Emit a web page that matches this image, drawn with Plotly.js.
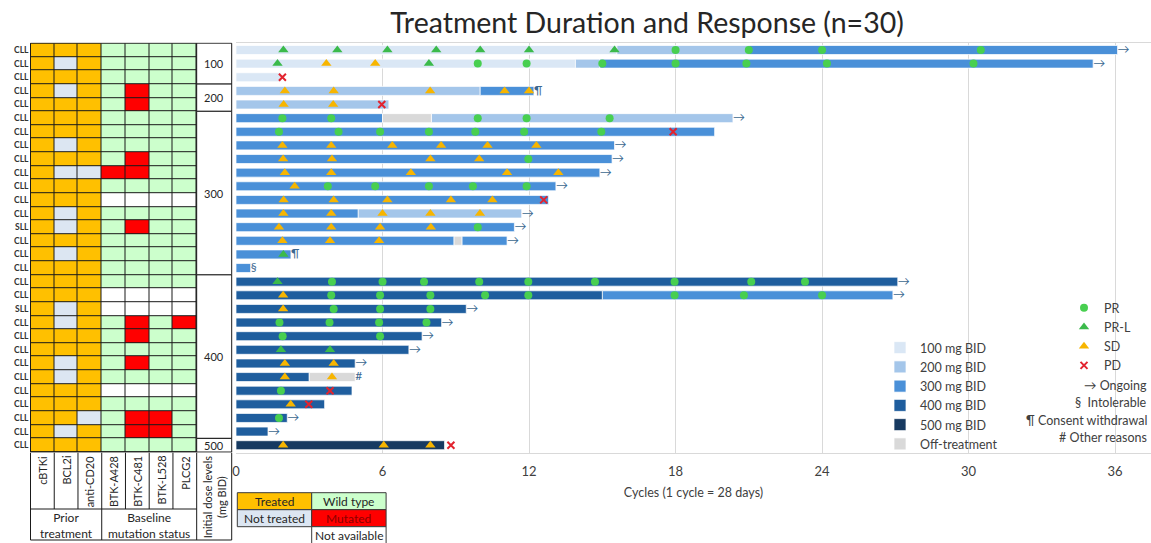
<!DOCTYPE html>
<html>
<head>
<meta charset="utf-8">
<script src="https://cdn.plot.ly/plotly-3.0.1.min.js"></script>
<style>html,body{margin:0;padding:0;background:#fff;}#chart{width:1151px;height:543px;}</style>
</head>
<body>
<div id="chart"></div>
<script>
// ---------------- DATA ----------------
const rows = Array.from({length: 30}, (_, i) => i + 1);
const diagnosis = ['CLL','CLL','CLL','CLL','CLL','CLL','CLL','CLL','CLL','CLL','CLL','CLL','CLL','SLL','CLL',
                   'CLL','CLL','CLL','CLL','SLL','CLL','CLL','CLL','CLL','CLL','CLL','CLL','CLL','CLL','CLL'];
// prior treatment: cBTKi, BCL2i, anti-CD20  (T = treated, N = not treated)
const priorTreatment = ['TTT','TNT','TTT','TNT','TTT','TTT','TTT','TNT','TTT','TNN','TTT','TTT','TNT','TNT','TTT',
                        'TNT','TTT','TTT','TTT','TNT','TNT','TTT','TTT','TNT','TNT','TTT','TTT','TTN','TNT','TTT'];
// baseline mutation: BTK-A428, BTK-C481, BTK-L528, PLCG2 (W = wild type, M = mutated, A = not available)
const mutationStatus = ['WWWW','WWWW','WWWW','WMWW','WMWW','WWWW','WWWW','WWWW','WMWW','MMWW','WWWW','AAAA','WWWW','WMWW','WWWW',
                        'WWWW','WWWW','WWWW','AAAA','AAAA','WMWM','WMWW','WWWW','WMWW','WWWW','AAAA','WWWW','WMMW','WMMW','WWWW'];
const tableColumns = ['cBTKi','BCL2i','anti-CD20','BTK-A428','BTK-C481','BTK-L528','PLCG2'];
const statusCodes = ['T','N','W','M','A'];
const statusLabels = ['Treated','Not treated','Wild type','Mutated','Not available'];

const doseGroupLabels = ['100','200','300','400','500'];
const doseGroupFirst = [1, 4, 6, 18, 30];
const doseGroupLast  = [3, 5, 17, 29, 30];

// dose segments (cycles)
const dose100_row = [1, 2, 3];
const dose100_start = [0, 0, 0];
const dose100_end = [15.6, 13.9, 1.85];

const dose200_row = [1, 2, 4, 5, 6, 13];
const dose200_start = [15.6, 13.9, 0, 0, 8.0, 5.0];
const dose200_end = [21.0, 14.9, 10.0, 6.26, 20.35, 11.7];

const dose300_row = [1, 2, 4, 6, 7, 8, 9, 10, 11, 12, 13, 14, 15, 15, 16, 17, 19];
const dose300_start = [21.0, 14.9, 10.0, 0, 0, 0, 0, 0, 0, 0, 0, 0, 0, 9.25, 0, 0, 15.0];
const dose300_end = [36.1, 35.1, 12.2, 6.0, 19.6, 15.5, 15.4, 14.9, 13.1, 12.8, 5.0, 11.4, 8.93, 11.1, 2.25, 0.6, 26.9];

const dose400_row = [18, 19, 20, 21, 22, 23, 24, 25, 26, 27, 28, 29];
const dose400_start = [0, 0, 0, 0, 0, 0, 0, 0, 0, 0, 0, 0];
const dose400_end = [27.1, 15.0, 9.43, 8.42, 7.62, 7.08, 4.88, 3.0, 4.75, 3.63, 2.1, 1.31];

const dose500_row = [30];
const dose500_start = [0];
const dose500_end = [8.54];

const offTx_row = [6, 15, 25];
const offTx_start = [6.0, 8.93, 3.0];
const offTx_end = [8.0, 9.25, 4.88];

// responses: [row, [cycles]]
const respPR = [
  [1, [18.0, 21.0, 24.0, 30.5]],
  [2, [9.9, 11.9, 15.0, 18.0, 20.9, 24.2, 30.2]],
  [6, [1.9, 3.9, 9.9, 11.9, 15.3]],
  [7, [1.76, 4.2, 5.9, 7.9, 9.8, 11.8, 14.96]],
  [9, [11.97]],
  [11, [3.76, 5.7, 7.9, 9.7, 11.9]],
  [14, [9.9]],
  [18, [3.93, 6.0, 7.7, 9.96, 11.97, 14.7, 17.96, 21.1, 23.3]],
  [19, [3.9, 5.9, 7.96, 10.2, 11.97, 17.96, 20.8, 24.0]],
  [20, [4.0, 5.9, 7.96]],
  [21, [1.78, 3.83, 5.86, 7.8]],
  [22, [1.91, 5.9]],
  [26, [1.84]],
  [28, [1.76]]
];
const respPRL = [
  [1, [1.94, 4.15, 6.2, 8.2, 10.0, 12.0, 15.5]],
  [2, [1.7, 7.9]],
  [16, [1.94]],
  [18, [1.7]],
  [23, [1.84, 3.85]]
];
const respSD = [
  [2, [3.7, 5.7]],
  [4, [2.0, 4.0, 7.95, 11.0, 12.0]],
  [5, [1.95, 3.98]],
  [8, [1.9, 3.9, 6.4, 8.4, 10.3, 12.3]],
  [9, [1.93, 3.93, 7.96, 9.96]],
  [10, [2.0, 3.9, 7.16, 11.1, 13.2]],
  [11, [2.4]],
  [12, [1.95, 4.0, 6.2, 8.8, 10.5]],
  [13, [1.94, 3.9, 6.0, 7.96, 9.99]],
  [14, [1.76, 3.9, 5.9, 7.98]],
  [15, [1.9, 3.85, 5.86]],
  [19, [1.93]],
  [20, [1.93]],
  [24, [2.0, 4.0]],
  [25, [2.0, 3.93]],
  [27, [2.24]],
  [30, [1.93, 6.05, 7.96]]
];
const respPD = [
  [3, [1.9]], [5, [5.97]], [7, [17.9]], [12, [12.6]], [26, [3.85]], [27, [2.98]], [30, [8.8]]
];

// end-of-treatment notes
const note_row = [1, 2, 4, 6, 8, 9, 10, 11, 13, 14, 15, 16, 17, 18, 19, 20, 21, 22, 23, 24, 25, 28, 29];
const note_x = [36.1, 35.1, 12.2, 20.35, 15.5, 15.4, 14.9, 13.1, 11.7, 11.4, 11.1, 2.25, 0.6, 27.1, 26.9, 9.43, 8.42, 7.62, 7.08, 4.88, 4.88, 2.1, 1.31];
const note_sym = ['→','→','¶','→','→','→','→','→','→','→','→','¶','§','→','→','→','→','→','→','→','#','→','→'];

const noteLegend = ['→ Ongoing', '§  Intolerable', '¶ Consent withdrawal', '# Other reasons'];

// ---------------- STYLE ----------------
const W = 1151, H = 543;
const FONT = 'Lato, "Open Sans", "DejaVu Sans", sans-serif';
const TXT = '#404040';
const statusColors = ['#FFC000', '#DCE6F2', '#CCFFCC', '#FF0000', '#FFFFFF'];
const doseColors = {d100:'#DAE7F5', d200:'#A4C6EA', d300:'#4A90D8', d400:'#1F5E9E', d500:'#173A61', off:'#D9D9D9'};

// geometry (pixels)
const plotTop = 42.5, plotBottom = 452.7;
const mainLeft = 236, pxPerCycle = 24.42;
const tableLeft = 30.5, colPx = 23.74, doseColUnits = 1.475;
const x2dom0 = tableLeft - 1, x2dom1 = tableLeft + (7 + doseColUnits) * colPx + 1.5;
const px2paperX = p => p / W;
const px2paperY = p => 1 - p / H;
const x2ToPx = u => tableLeft + u * colPx;

// ---------------- TRACES ----------------
const traces = [];

// table heatmap
const zTable = rows.map((r, i) => {
  const codes = (priorTreatment[i] + mutationStatus[i]).split('');
  return codes.map(c => statusCodes.indexOf(c));
});
const cs = [];
statusColors.forEach((c, i) => {
  const lo = Math.max(0, (i - 0.5) / 4), hi = Math.min(1, (i + 0.5) / 4);
  cs.push([lo, c]); cs.push([hi, c]);
});
traces.push({
  type: 'heatmap', xaxis: 'x2', yaxis: 'y',
  x: tableColumns.map((_, i) => i + 0.5), y: rows, z: zTable,
  zmin: 0, zmax: 4, colorscale: cs, showscale: false,
  xgap: 1, ygap: 1, hoverinfo: 'skip', showlegend: false
});

function barTrace(name, r, s, e, color) {
  return {
    type: 'bar', orientation: 'h', name: name, legend: 'legend',
    y: r, base: s, x: e.map((v, i) => v - s[i]),
    width: 0.66, xaxis: 'x', yaxis: 'y',
    marker: {color: color, line: {color: 'rgba(255,255,255,0.9)', width: 0.8}},
    hoverinfo: 'skip'
  };
}
traces.push(barTrace('100 mg BID', dose100_row, dose100_start, dose100_end, doseColors.d100));
traces.push(barTrace('200 mg BID', dose200_row, dose200_start, dose200_end, doseColors.d200));
traces.push(barTrace('300 mg BID', dose300_row, dose300_start, dose300_end, doseColors.d300));
traces.push(barTrace('400 mg BID', dose400_row, dose400_start, dose400_end, doseColors.d400));
traces.push(barTrace('500 mg BID', dose500_row, dose500_start, dose500_end, doseColors.d500));
traces.push(barTrace('Off-treatment', offTx_row, offTx_start, offTx_end, doseColors.off));

function flat(list) {
  const xs = [], ys = [];
  list.forEach(([r, cyc]) => cyc.forEach(c => { xs.push(c); ys.push(r); }));
  return {x: xs, y: ys};
}
function respTrace(name, list, marker) {
  const f = flat(list);
  return {type: 'scatter', mode: 'markers', name: name, legend: 'legend2',
          x: f.x, y: f.y, xaxis: 'x', yaxis: 'y', marker: marker, cliponaxis: false, hoverinfo: 'skip'};
}
traces.push(respTrace('PR', respPR, {symbol: 'circle', size: 8, color: '#48CF50'}));
traces.push(respTrace('PR-L', respPRL, {symbol: 'triangle-up', size: 9, color: '#3BBA4B'}));
traces.push(respTrace('SD', respSD, {symbol: 'triangle-up', size: 9, color: '#F7B500'}));
traces.push(respTrace('PD', respPD, {symbol: 'x-thin', size: 7, color: '#E2232E', line: {color: '#E2232E', width: 2}}));

traces.push({
  type: 'scatter', mode: 'text', x: note_x, y: note_row, text: note_sym,
  textposition: 'middle right', textfont: {size: 12, color: '#3C6890', family: FONT},
  xaxis: 'x', yaxis: 'y', showlegend: false, cliponaxis: false, hoverinfo: 'skip'
});

// ---------------- SHAPES & ANNOTATIONS ----------------
const shapes = [];
const annotations = [];
const LINE = '#1a1a1a';

// table frame
shapes.push({type: 'rect', xref: 'x2', yref: 'y', x0: 0, x1: 7, y0: 0.5, y1: 30.5,
             line: {color: LINE, width: 1}, fillcolor: 'rgba(0,0,0,0)', layer: 'above'});
shapes.push({type: 'rect', xref: 'x2', yref: 'y', x0: 0, x1: 7, y0: 0.5, y1: 30.5,
             line: {width: 0}, fillcolor: LINE, layer: 'below'});
// dose groups
doseGroupLabels.forEach((lab, i) => {
  shapes.push({type: 'rect', xref: 'x2', yref: 'y', x0: 7, x1: 7 + doseColUnits,
               y0: doseGroupFirst[i] - 0.5, y1: doseGroupLast[i] + 0.5,
               line: {color: LINE, width: 1}, fillcolor: '#FFFFFF', layer: 'above'});
  annotations.push({xref: 'x2', yref: 'y', x: 7 + doseColUnits / 2, y: (doseGroupFirst[i] + doseGroupLast[i]) / 2,
                    text: lab, showarrow: false, font: {size: 11, color: '#262626', family: FONT}});
});

// header area below table
const hTop = plotBottom, hMid = 509, hBot = 540;
const hLine = (x, y0, y1) => shapes.push({type: 'line', xref: 'paper', yref: 'paper',
  x0: px2paperX(x), x1: px2paperX(x), y0: px2paperY(y0), y1: px2paperY(y1), line: {color: LINE, width: 1}});
[1, 2, 4, 5, 6].forEach(u => hLine(x2ToPx(u), hTop, hMid));
[0, 3, 7, 7 + doseColUnits].forEach(u => hLine(x2ToPx(u), hTop, hBot));
shapes.push({type: 'line', xref: 'paper', yref: 'paper', x0: px2paperX(x2ToPx(0)), x1: px2paperX(x2ToPx(7)),
             y0: px2paperY(hMid), y1: px2paperY(hMid), line: {color: LINE, width: 1}});
shapes.push({type: 'line', xref: 'paper', yref: 'paper', x0: px2paperX(x2ToPx(0)), x1: px2paperX(x2ToPx(7 + doseColUnits)),
             y0: px2paperY(hBot), y1: px2paperY(hBot), line: {color: LINE, width: 1}});

tableColumns.forEach((c, i) => {
  annotations.push({xref: 'paper', yref: 'paper', x: px2paperX(x2ToPx(i + 0.5)), y: px2paperY(454),
                    xanchor: 'center', yanchor: 'top', textangle: -90, text: c, showarrow: false,
                    font: {size: 11, color: '#262626', family: FONT}});
});
annotations.push({xref: 'paper', yref: 'paper', x: px2paperX(x2ToPx(7 + doseColUnits / 2)), y: px2paperY(497),
                  xanchor: 'center', yanchor: 'middle', textangle: -90, text: 'Initial dose levels<br>(mg BID)',
                  showarrow: false, font: {size: 11, color: '#262626', family: FONT}});
annotations.push({xref: 'paper', yref: 'paper', x: px2paperX(x2ToPx(1.5)), y: px2paperY(525),
                  xanchor: 'center', yanchor: 'middle', text: 'Prior<br>treatment', showarrow: false,
                  font: {size: 12, color: '#262626', family: FONT}});
annotations.push({xref: 'paper', yref: 'paper', x: px2paperX(x2ToPx(5)), y: px2paperY(525),
                  xanchor: 'center', yanchor: 'middle', text: 'Baseline<br>mutation status', showarrow: false,
                  font: {size: 12, color: '#262626', family: FONT}});

// status colour key
const keyLeft = 237.3, keyTop = 492.7, keyW = 74.4, keyH = 17;
const keyCol = [0, 0, 1, 1, 1], keyRow = [0, 1, 0, 1, 2];
const keyTextColor = ['#262626', '#262626', '#262626', '#8B0000', '#262626'];
statusLabels.forEach((lab, i) => {
  const x0 = keyLeft + keyCol[i] * keyW, y0 = keyTop + keyRow[i] * keyH;
  shapes.push({type: 'rect', xref: 'paper', yref: 'paper',
               x0: px2paperX(x0), x1: px2paperX(x0 + keyW), y0: px2paperY(y0), y1: px2paperY(y0 + keyH),
               fillcolor: statusColors[i], line: {color: '#3a3a3a', width: 1}});
  annotations.push({xref: 'paper', yref: 'paper', x: px2paperX(x0 + keyW / 2), y: px2paperY(y0 + keyH / 2),
                    xanchor: 'center', yanchor: 'middle', text: lab, showarrow: false,
                    font: {size: 12, color: keyTextColor[i], family: FONT}});
});

// note legend
const noteY = [385, 402, 420, 437];
noteLegend.forEach((t, i) => {
  annotations.push({xref: 'paper', yref: 'paper', x: px2paperX(1149), y: px2paperY(noteY[i]),
                    xanchor: 'right', yanchor: 'middle', text: t, showarrow: false,
                    font: {size: 12.5, color: TXT, family: FONT}});
});

// ---------------- LAYOUT ----------------
const layout = {
  width: W, height: H,
  margin: {l: 0, r: 0, t: 0, b: 0},
  paper_bgcolor: '#FFFFFF', plot_bgcolor: 'rgba(0,0,0,0)',
  font: {family: FONT, color: TXT},
  barmode: 'overlay',
  showlegend: true,
  title: {text: 'Treatment Duration and Response (n=30)', xref: 'paper', yref: 'paper',
          x: px2paperX(647), y: px2paperY(23), xanchor: 'center', yanchor: 'middle',
          font: {size: 28.5, color: '#262626', family: FONT}},
  xaxis: {domain: [px2paperX(mainLeft), 1], range: [0, (W - mainLeft) / pxPerCycle], anchor: 'y',
          tickvals: [0, 6, 12, 18, 24, 30, 36], showgrid: true, gridcolor: '#D9D9D9', gridwidth: 1,
          zeroline: false, showline: true, mirror: true, linecolor: '#D9D9D9', linewidth: 1,
          ticks: '', tickfont: {size: 13, color: TXT, family: FONT}, ticklabelstandoff: 7,
          title: {text: 'Cycles (1 cycle = 28 days)', font: {size: 12.5, color: TXT, family: FONT}, standoff: 9},
          automargin: false, fixedrange: true},
  xaxis2: {domain: [px2paperX(x2dom0), px2paperX(x2dom1)],
           range: [(x2dom0 - tableLeft) / colPx, (x2dom1 - tableLeft) / colPx], anchor: 'y',
           showgrid: false, zeroline: false, showticklabels: false, showline: false, ticks: '',
           automargin: false, fixedrange: true},
  yaxis: {domain: [px2paperY(plotBottom), px2paperY(plotTop)], range: [30.55, 0.45], anchor: 'x2',
          tickvals: rows, ticktext: diagnosis.map(d => '<b>' + d + '</b>'),
          tickfont: {size: 8.5, color: '#333333', family: FONT}, showgrid: false, zeroline: false,
          ticks: '', showline: false, automargin: false, fixedrange: true},
  legend: {x: px2paperX(880), y: px2paperY(333), xanchor: 'left', yanchor: 'top',
           font: {size: 12.5, color: TXT, family: FONT}, bgcolor: 'rgba(0,0,0,0)', traceorder: 'normal',
           itemclick: false, itemdoubleclick: false},
  legend2: {x: px2paperX(1064), y: px2paperY(293), xanchor: 'left', yanchor: 'top',
            font: {size: 12.5, color: TXT, family: FONT}, bgcolor: 'rgba(0,0,0,0)', traceorder: 'normal',
            itemclick: false, itemdoubleclick: false},
  shapes: shapes,
  annotations: annotations
};

Plotly.newPlot('chart', traces, layout, {displayModeBar: false, staticPlot: true});
</script>
</body>
</html>
